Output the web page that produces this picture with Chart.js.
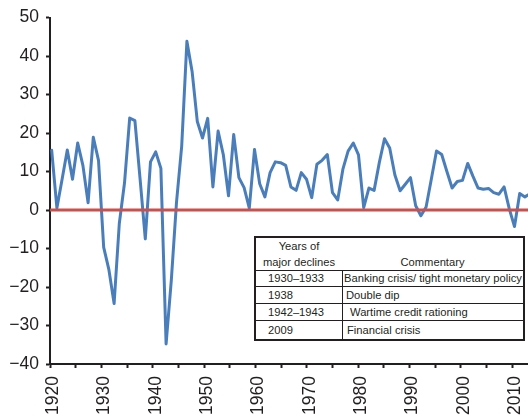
<!DOCTYPE html>
<html>
<head>
<meta charset="utf-8">
<script src="https://cdn.jsdelivr.net/npm/chart.js@4/dist/chart.umd.min.js"></script>
<style>
  html, body { margin: 0; padding: 0; background: #fff; }
  #wrap { position: relative; width: 528px; height: 418px; }
  canvas { display: block; }
  #tbl {
    position: absolute; left: 254px; top: 236px; width: 271px;
    border: 2px solid #231f20; border-spacing: 0; table-layout: fixed;
    font-family: 'Liberation Sans', Arial, sans-serif; font-size: 11.2px;
    color: #231f20; background: #fff; box-sizing: border-box;
  }
  #tbl td { padding: 0; white-space: nowrap; overflow: visible; }
  #tbl tr.head td { height: 31px; vertical-align: bottom; text-align: center; line-height: 16px; border-bottom: 1px solid #231f20; }
  #tbl tr.body td { vertical-align: middle; line-height: 13px; }
  #tbl tr.body td.c1 { padding-left: 12px; }
  #tbl tr.body td.c2 { border-left: 1px solid #231f20; }
  #tbl tr.body:not(:last-child) td { border-bottom: 1px solid #231f20; }
</style>
</head>
<body>
<div id="wrap">
  <canvas id="c" width="528" height="418"></canvas>
  <table id="tbl">
    <colgroup><col style="width:86px"><col></colgroup>
    <tbody id="tb"></tbody>
  </table>
</div>
<script>
// ---- data ----
const years = [
  1920,1921,1922,1923,1924,1925,1926,1927,1928,1929,
  1930,1931,1932,1933,1934,1935,1936,1937,1938,1939,
  1940,1941,1942,1943,1944,1945,1946,1947,1948,1949,
  1950,1951,1952,1953,1954,1955,1956,1957,1958,1959,
  1960,1961,1962,1963,1964,1965,1966,1967,1968,1969,
  1970,1971,1972,1973,1974,1975,1976,1977,1978,1979,
  1980,1981,1982,1983,1984,1985,1986,1987,1988,1989,
  1990,1991,1992,1993,1994,1995,1996,1997,1998,1999,
  2000,2001,2002,2003,2004,2005,2006,2007,2008,2009,
  2010,2011,2012
];
const growth = [
  15.5, 0.5, 8.0, 15.6, 8.0, 17.4, 11.6, 1.9, 18.9, 12.9,
  -9.7, -15.5, -24.3, -3.5, 7.0, 23.9, 23.2, 8.0, -7.5, 12.5,
  15.1, 10.8, -34.8, -18.3, 2.0, 16.6, 43.8, 36.0, 23.0, 18.7,
  23.8, 6.0, 20.5, 14.4, 3.7, 19.6, 8.4, 5.8, 0.5, 15.7,
  6.8, 3.4, 9.7, 12.5, 12.3, 11.6, 6.0, 5.1, 9.7, 8.0,
  3.2, 11.9, 12.9, 14.4, 4.5, 2.6, 10.6, 15.3, 17.4, 14.3,
  0.6, 5.7, 5.1, 12.3, 18.5, 16.1, 9.1, 5.0, 6.7, 8.4,
  1.1, -1.5, 0.8, 8.0, 15.3, 14.4, 10.0, 5.7, 7.4, 7.7,
  12.1, 8.8, 5.7, 5.4, 5.6, 4.5, 4.1, 6.0, 0.3, -4.3,
  4.3, 3.4, 4.2
];
const yTickValues = [-40, -30, -20, -10, 0, 10, 20, 30, 40, 50];
const xTickYears = [1920,1925,1930,1935,1940,1945,1950,1955,1960,1965,1970,1975,1980,1985,1990,1995,2000,2005,2010];
const xLabelYears = [1920,1930,1940,1950,1960,1970,1980,1990,2000,2010];

const tableHeadLeft = ['Years of', 'major declines'];
const tableHeadRight = 'Commentary';
const declineYears = ['1930\u20131933', '1938', '1942\u20131943', '2009'];
const commentary = ['Banking crisis/ tight monetary policy', 'Double dip', 'Wartime credit rationing', 'Financial crisis'];

// ---- table ----
const rowHeights = [15, 16, 16, 18];
const c2Pad = [1, 3, 7, 4];
const tb = document.getElementById('tb');
const trh = document.createElement('tr'); trh.className = 'head';
const th1 = document.createElement('td'); th1.innerHTML = tableHeadLeft.join('<br>');
const th2 = document.createElement('td'); th2.textContent = tableHeadRight;
trh.appendChild(th1); trh.appendChild(th2); tb.appendChild(trh);
declineYears.forEach((yr, i) => {
  const tr = document.createElement('tr'); tr.className = 'body';
  const a = document.createElement('td'); a.className = 'c1'; a.textContent = yr;
  const b = document.createElement('td'); b.className = 'c2'; b.textContent = commentary[i];
  b.style.paddingLeft = c2Pad[i] + 'px';
  a.style.height = rowHeights[i] + 'px'; b.style.height = rowHeights[i] + 'px';
  tr.appendChild(a); tr.appendChild(b); tb.appendChild(tr);
});

// ---- chart ----
const ink = '#231f20';
const fontFamily = "'Liberation Sans', Arial, Helvetica, sans-serif";

const zeroLinePlugin = {
  id: 'zeroLine',
  afterDatasetsDraw(chart) {
    const { ctx, chartArea, scales } = chart;
    const py = scales.y.getPixelForValue(0);
    ctx.save();
    ctx.strokeStyle = '#c9504c';
    ctx.lineWidth = 3;
    ctx.beginPath();
    ctx.moveTo(chartArea.left, py);
    ctx.lineTo(chartArea.right, py);
    ctx.stroke();
    ctx.restore();
  }
};

new Chart(document.getElementById('c'), {
  type: 'line',
  data: {
    datasets: [{
      data: years.map((yr, i) => ({ x: yr, y: growth[i] })),
      xAxisID: 'xd',
      yAxisID: 'y',
      borderColor: '#4a7ebb',
      borderWidth: 3,
      borderJoinStyle: 'round',
      borderCapStyle: 'round',
      pointRadius: 0,
      tension: 0,
      fill: false
    }]
  },
  options: {
    responsive: false,
    animation: false,
    devicePixelRatio: 1,
    layout: { padding: { top: 16, right: 0, bottom: 0, left: 0 } },
    plugins: { legend: { display: false }, tooltip: { enabled: false } },
    scales: {
      xd: { type: 'linear', display: false, min: 1919.673, max: 2011.596 },
      x: {
        type: 'linear', position: 'bottom', min: 1920, max: 2013.05,
        afterBuildTicks: s => { s.ticks = xTickYears.map(v => ({ value: v })); },
        afterFit: s => { s.height = 54; s.paddingLeft = 0; s.paddingRight = 0; },
        grid: { drawOnChartArea: false, drawTicks: true, tickLength: 4, tickWidth: 2, tickColor: ink },
        border: { display: true, color: ink, width: 2 },
        ticks: {
          autoSkip: false, maxRotation: 90, minRotation: 90, padding: 8, labelOffset: 3, color: ink,
          font: { family: fontFamily, size: 17.5 },
          callback: v => xLabelYears.includes(v) ? String(v) : ''
        }
      },
      y: {
        type: 'linear', min: -40, max: 50,
        afterBuildTicks: s => { s.ticks = yTickValues.map(v => ({ value: v })); },
        afterFit: s => { s.width = 50; },
        grid: { drawOnChartArea: false, drawTicks: true, tickLength: 4, tickWidth: 2, tickColor: ink },
        border: { display: true, color: ink, width: 2 },
        ticks: {
          padding: 7, color: ink,
          font: { family: fontFamily, size: 17.5 },
          callback: v => v < 0 ? '\u2212' + Math.abs(v) : String(v)
        }
      }
    }
  },
  plugins: [zeroLinePlugin]
});
</script>
</body>
</html>
